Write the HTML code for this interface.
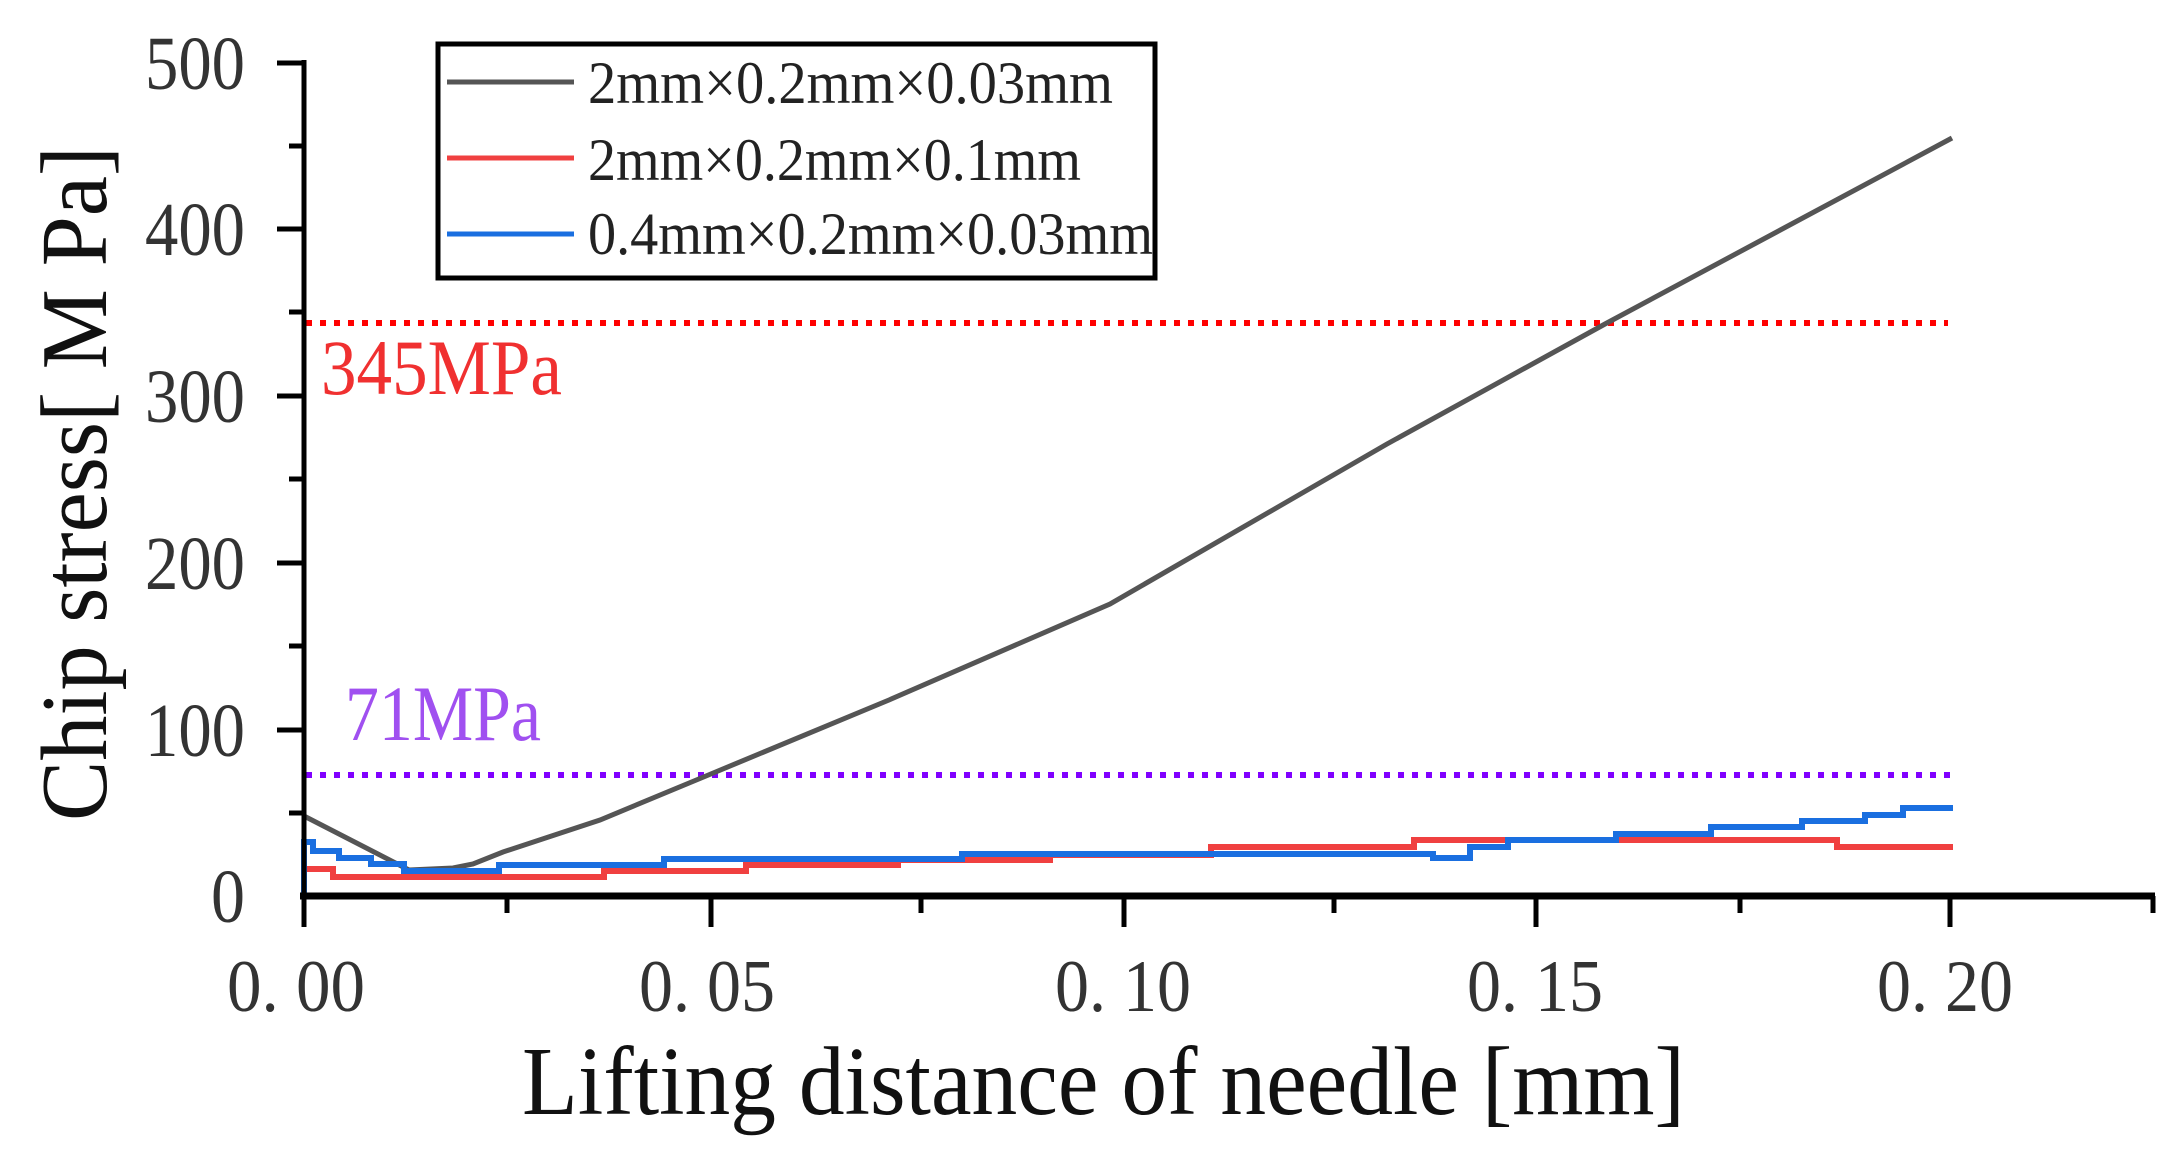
<!DOCTYPE html>
<html><head><meta charset="utf-8"><style>
html,body{margin:0;padding:0;background:#fff;}
svg{display:block;}
text{font-family:"Liberation Serif",serif;}
</style></head><body>
<svg width="2182" height="1166" viewBox="0 0 2182 1166" xmlns="http://www.w3.org/2000/svg">
<rect width="2182" height="1166" fill="#fff"/>
<line x1="306" y1="323" x2="1948" y2="323" stroke="#ff0000" stroke-width="6" stroke-dasharray="6 8"/>
<line x1="306" y1="775" x2="1952" y2="775" stroke="#8000ff" stroke-width="6" stroke-dasharray="6 8"/>
<text x="321" y="394" font-size="78" fill="#f03030" textLength="241" lengthAdjust="spacingAndGlyphs">345MPa</text>
<text x="345" y="740" font-size="78" fill="#a050f0" textLength="196" lengthAdjust="spacingAndGlyphs">71MPa</text>
<polyline fill="none" stroke="#555" stroke-width="5" points="304,816 409,870 453,868 473,864 503,852 600,820 706,776 889,700 1110,604 1387,444 1605,324 1952,138"/>
<polyline fill="none" stroke="#f04040" stroke-width="6" points="304,869 333,869 333,877 604,877 604,871 746,871 746,865 898,865 898,860 1050,860 1050,855 1211,855 1211,847 1414,847 1414,840 1837,840 1837,847 1953,847"/>
<polyline fill="none" stroke="#1a6fe0" stroke-width="6" points="304,896 304,842 313,842 313,851 339,851 339,858 371,858 371,864 404,864 404,871 499,871 499,865 664,865 664,859 962,859 962,854 1433,854 1433,858 1470,858 1470,847 1508,847 1508,840 1616,840 1616,834 1711,834 1711,827 1802,827 1802,821 1865,821 1865,815 1903,815 1903,808 1953,808"/>
<line x1="304" y1="60" x2="304" y2="899" stroke="#000" stroke-width="5"/>
<line x1="300" y1="896" x2="2155" y2="896" stroke="#000" stroke-width="7"/>
<g stroke="#000" stroke-width="5">
<line x1="277" y1="63" x2="304" y2="63"/><line x1="289" y1="146" x2="304" y2="146"/>
<line x1="277" y1="229" x2="304" y2="229"/><line x1="289" y1="312" x2="304" y2="312"/>
<line x1="277" y1="396" x2="304" y2="396"/><line x1="289" y1="479" x2="304" y2="479"/>
<line x1="277" y1="563" x2="304" y2="563"/><line x1="289" y1="646" x2="304" y2="646"/>
<line x1="277" y1="730" x2="304" y2="730"/><line x1="289" y1="813" x2="304" y2="813"/>
<line x1="304" y1="896" x2="304" y2="927"/><line x1="507" y1="896" x2="507" y2="913"/>
<line x1="711" y1="896" x2="711" y2="927"/><line x1="921" y1="896" x2="921" y2="913"/>
<line x1="1124" y1="896" x2="1124" y2="927"/><line x1="1334" y1="896" x2="1334" y2="913"/>
<line x1="1536" y1="896" x2="1536" y2="927"/><line x1="1740" y1="896" x2="1740" y2="913"/>
<line x1="1950" y1="896" x2="1950" y2="927"/><line x1="2153" y1="896" x2="2153" y2="913"/>
</g>
<g font-size="76" fill="#333" text-anchor="end">
<text x="245" y="89" textLength="100" lengthAdjust="spacingAndGlyphs">500</text>
<text x="245" y="255" textLength="100" lengthAdjust="spacingAndGlyphs">400</text>
<text x="245" y="422" textLength="100" lengthAdjust="spacingAndGlyphs">300</text>
<text x="245" y="589" textLength="100" lengthAdjust="spacingAndGlyphs">200</text>
<text x="245" y="756" textLength="100" lengthAdjust="spacingAndGlyphs">100</text>
<text x="245" y="922" textLength="34" lengthAdjust="spacingAndGlyphs">0</text>
</g>
<g font-size="74" fill="#333">
<text x="227" y="1011" textLength="138" lengthAdjust="spacingAndGlyphs">0. 00</text>
<text x="639" y="1011" textLength="136" lengthAdjust="spacingAndGlyphs">0. 05</text>
<text x="1055" y="1011" textLength="136" lengthAdjust="spacingAndGlyphs">0. 10</text>
<text x="1467" y="1011" textLength="136" lengthAdjust="spacingAndGlyphs">0. 15</text>
<text x="1877" y="1011" textLength="136" lengthAdjust="spacingAndGlyphs">0. 20</text>
</g>
<text x="522" y="1114" font-size="98" fill="#111" textLength="1163" lengthAdjust="spacingAndGlyphs">Lifting distance of needle [mm]</text>
<text transform="translate(106,821) rotate(-90)" x="0" y="0" font-size="94" fill="#111" textLength="675" lengthAdjust="spacingAndGlyphs">Chip stress[ M Pa]</text>
<rect x="438" y="44" width="717" height="234" fill="#fff" stroke="#000" stroke-width="5"/>
<line x1="447" y1="82" x2="574" y2="82" stroke="#555" stroke-width="5"/>
<line x1="447" y1="158" x2="574" y2="158" stroke="#f04040" stroke-width="5"/>
<line x1="447" y1="234" x2="574" y2="234" stroke="#1a6fe0" stroke-width="5"/>
<g font-size="60" fill="#222">
<text x="588" y="103" textLength="525" lengthAdjust="spacingAndGlyphs">2mm×0.2mm×0.03mm</text>
<text x="588" y="180" textLength="493" lengthAdjust="spacingAndGlyphs">2mm×0.2mm×0.1mm</text>
<text x="588" y="254" textLength="565" lengthAdjust="spacingAndGlyphs">0.4mm×0.2mm×0.03mm</text>
</g>
</svg>
</body></html>
